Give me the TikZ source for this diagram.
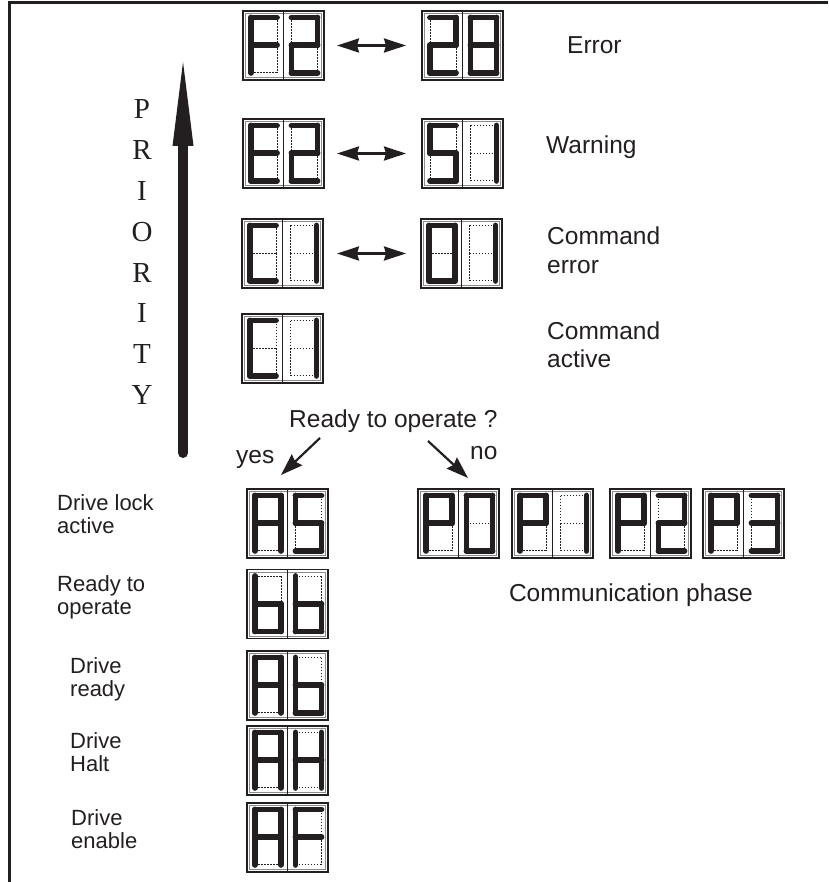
\documentclass[tikz,border=0pt]{standalone}
\usepackage{fontspec}
\setmainfont{Liberation Sans}
\newfontfamily\prioserif{Liberation Serif}
\usetikzlibrary{arrows.meta}
\definecolor{ink}{HTML}{231F20}

\newcommand\defchar[3]{\expandafter\def\csname segon#1\endcsname{#2}\expandafter\def\csname segoff#1\endcsname{#3}}
\defchar{F}{TL/TR,TL/ML,ML/BL,ML/MR}{TR/MR,MR/BR,BL/BR}
\defchar{2}{TL/TR,TR/MR,ML/MR,ML/BL,BL/BR}{TL/ML,MR/BR}
\defchar{8}{TL/TR,TR/MR,MR/BR,BL/BR,ML/BL,TL/ML,ML/MR}{TL/TL}
\defchar{E}{TL/TR,TL/ML,ML/MR,ML/BL,BL/BR}{TR/MR,MR/BR}
\defchar{5}{TL/TR,TL/ML,ML/MR,MR/BR,BL/BR}{TR/MR,ML/BL}
\defchar{C}{TL/TR,TL/ML,ML/BL,BL/BR}{TR/MR,MR/BR,ML/MR}
\defchar{1}{TR/MR,MR/BR}{TL/TR,BL/BR,ML/BL,TL/ML,ML/MR}
\defchar{0}{TL/TR,TR/MR,MR/BR,BL/BR,ML/BL,TL/ML}{ML/MR}
\defchar{A}{TL/TR,TR/MR,MR/BR,ML/BL,TL/ML,ML/MR}{BL/BR}
\defchar{b}{TL/ML,ML/BL,ML/MR,MR/BR,BL/BR}{TL/TR,TR/MR}
\defchar{H}{TR/MR,MR/BR,ML/BL,TL/ML,ML/MR}{TL/TR,BL/BR}
\defchar{P}{TL/TR,TR/MR,TL/ML,ML/MR,ML/BL}{MR/BR,BL/BR}
\defchar{3}{TL/TR,TR/MR,ML/MR,MR/BR,BL/BR}{ML/BL,TL/ML}

\newcommand\cellsegs[3]{%
  \begin{scope}[shift={(#1+8,#2+6.5)},xscale=26,yscale=27.75]
    \coordinate (TL) at (0,0); \coordinate (TR) at (1,0);
    \coordinate (ML) at (0,1); \coordinate (MR) at (1,1);
    \coordinate (BL) at (0,2); \coordinate (BR) at (1,2);
    \expandafter\let\expandafter\segoffl\csname segoff#3\endcsname
    \expandafter\let\expandafter\segonl\csname segon#3\endcsname
    \foreach \p/\q in \segoffl {\draw[segoff] (\p) -- (\q);}
    \foreach \p/\q in \segonl {\draw[segon] (\p) -- (\q);}
  \end{scope}}

\newcommand\display[5]{%
  \node[dispframe] (#1) at (#2+40.5,#3+34.5) {};
  \draw[dispinner] (#2+2.6,#3+2.6) rectangle (#2+78.4,#3+66.4);
  \draw[dispdiv] (#1.north) -- (#1.south);
  \cellsegs{#2}{#3}{#4}
  \cellsegs{#2+40.5}{#3}{#5}}

\begin{document}
\begin{tikzpicture}[x=1pt,y=-1pt,
  frame/.style={draw=ink, line width=3pt},
  dispframe/.style={draw=ink, line width=1.6pt, minimum width=81pt, minimum height=69pt, inner sep=0pt, outer sep=0pt},
  dispinner/.style={draw=black!45, line width=0.7pt},
  dispdiv/.style={draw=ink, line width=1.4pt},
  segon/.style={draw=ink, line width=5.8pt, line cap=round},
  segoff/.style={draw=ink, line width=0.9pt, dash pattern=on 1.5pt off 1.5pt},
  dblarrow/.style={draw=ink, line width=2.4pt, {Stealth[length=22pt,width=14pt,inset=2pt]}-{Stealth[length=22pt,width=14pt,inset=2pt]}},
  pointer/.style={draw=ink, line width=2.2pt, -{Stealth[length=22pt,width=15pt,inset=2.5pt]}},
  prio/.style={font=\prioserif\fontsize{29}{29}\selectfont, text=ink, inner sep=0pt, anchor=base},
  lbl/.style={font=\fontsize{24.5}{28}\selectfont, text=ink, inner sep=0pt, anchor=base west},
  slbl/.style={font=\fontsize{22}{25}\selectfont, text=ink, inner sep=0pt, anchor=base west}]
\useasboundingbox (0,0) rectangle (828,882);

% frame
\coordinate (frBL) at (9.5,882);
\coordinate (frTL) at (9.5,3);
\coordinate (frTR) at (828,3);
\draw[frame] (frBL) -- (frTL) -- (frTR);

% priority arrow
\coordinate (prTip) at (183,62);
\coordinate (prBase) at (183,146);
\coordinate (prEnd) at (183,453);
\draw[draw=ink, line width=10pt, line cap=round] (prEnd) -- (prBase);
\fill[ink] (prTip) -- ([xshift=-10.5pt]prBase) -- ([xshift=10.5pt]prBase) -- cycle;
\foreach \l [count=\i from 0] in {P,R,I,O,R,I,T,Y}
  \node[prio] (pr\i) at (142,118.6+40.86*\i) {\l};

% displays, upper block
\display{dF2}{243}{11}{F}{2}
\display{d28}{422}{11}{2}{8}
\display{dE2}{243}{119}{E}{2}
\display{d51}{422}{119}{5}{1}
\display{dC1}{242}{219}{C}{1}
\display{d01}{421}{219}{0}{1}
\display{dC1b}{242}{314}{C}{1}

\draw[dblarrow] ([xshift=13pt]dF2.east) -- ([xshift=-16pt]d28.west);
\draw[dblarrow] ([xshift=13pt]dE2.east) -- ([xshift=-16pt]d51.west);
\draw[dblarrow] ([xshift=14pt]dC1.east) -- ([xshift=-15pt]d01.west);

\node[lbl] (tErr) at (567,53.5) {Error};
\node[lbl] (tWarn) at (546,154) {Warning};
\node[lbl] (tCmd1) at (547,245) {Command};
\node[lbl] (tCmdErr) at (547,273) {error};
\node[lbl] (tCmd2) at (547,339) {Command};
\node[lbl] (tCmdAct) at (547,367) {active};

% decision
\node[lbl] (tReady) at (289,427) {Ready to operate ?};
\node[lbl] (tYes) at (236,463) {yes};
\node[lbl] (tNo) at (470,459) {no};
\coordinate (yesA) at (320,438);
\coordinate (yesB) at (281,475);
\coordinate (noA) at (428,441);
\coordinate (noB) at (468,478);
\draw[pointer] (yesA) -- (yesB);
\draw[pointer] (noA) -- (noB);

% lower left displays
\display{dAS}{247}{489}{A}{5}
\display{dbb}{247}{569.5}{b}{b}
\display{dAb}{247}{651}{A}{b}
\display{dAH}{247}{726}{A}{H}
\display{dAF}{247}{803}{A}{F}

\node[slbl] (lDL1) at (57,510.5) {Drive lock};
\node[slbl] (lDL2) at (57,533.5) {active};
\node[slbl] (lRO1) at (57,591.5) {Ready to};
\node[slbl] (lRO2) at (57,614.5) {operate};
\node[slbl] (lDR1) at (70,673) {Drive};
\node[slbl] (lDR2) at (70,696) {ready};
\node[slbl] (lDH1) at (70,748) {Drive};
\node[slbl] (lDH2) at (70,771) {Halt};
\node[slbl] (lDE1) at (71,825) {Drive};
\node[slbl] (lDE2) at (71,848) {enable};

% communication phase
\display{dP0}{418}{489}{P}{0}
\display{dP1}{512}{489}{P}{1}
\display{dP2}{610}{489}{P}{2}
\display{dP3}{703}{489}{P}{3}
\node[lbl, anchor=base east] (tComm) at (753,601) {Communication phase};
\end{tikzpicture}
\end{document}
